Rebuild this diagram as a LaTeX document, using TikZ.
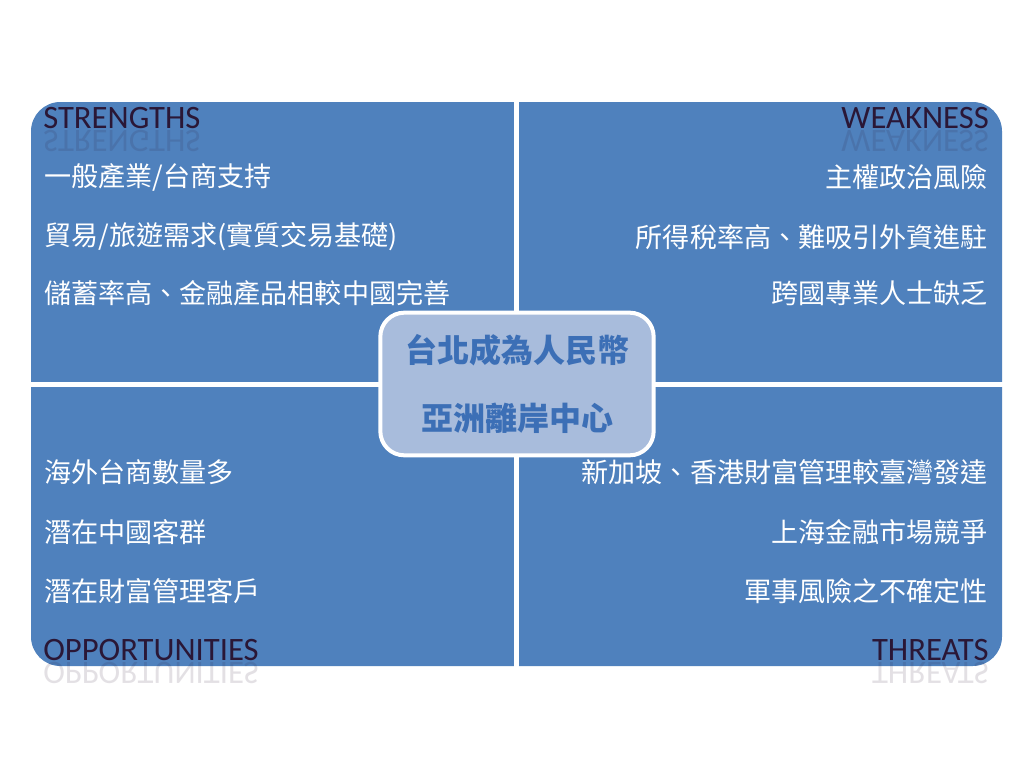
\documentclass[tikz,border=0pt]{standalone}
\usepackage{fontspec}
\setmainfont{Carlito}
\newfontfamily\cjk{Noto Sans CJK TC}
\definecolor{quadblue}{HTML}{4F81BD}
\definecolor{coreblue}{HTML}{A8BCDC}
\definecolor{coretext}{HTML}{3C6FB6}
\definecolor{titledark}{HTML}{2A1736}
\begin{document}
\begin{tikzpicture}[x=0.75pt,y=-0.75pt,
  item/.style={text=white,font=\cjk\fontsize{20.3}{24}\selectfont,inner sep=0pt},
  heading/.style={text=titledark,font=\fontsize{24.5}{28}\selectfont,inner sep=0pt},
  mirror/.style={heading,transform shape,yscale=-1,opacity=0.13}]
\useasboundingbox (0,0) rectangle (1024,768);
\fill[white] (0,0) rectangle (1024,768);
% quadrants
\fill[quadblue,rounded corners=22pt] (31,102) rectangle (1002,666);
\fill[white] (514,96) rectangle (519,672);
\fill[white] (25,382) rectangle (1008,387);
% headings
\node[heading,anchor=base west] (st) at (43,128) {STRENGTHS};
\node[mirror,anchor=base west] at (43,130) {STRENGTHS};
\node[heading,anchor=base east] (wk) at (989,128) {WEAKNESS};
\node[mirror,anchor=base east] at (989,130) {WEAKNESS};
\node[heading,anchor=base west] (op) at (43,660) {OPPORTUNITIES};
\node[mirror,anchor=base west] at (43,662) {OPPORTUNITIES};
\node[heading,anchor=base east] (th) at (989,660) {THREATS};
\node[mirror,anchor=base east] at (989,662) {THREATS};
% strengths
\node[item,anchor=west] (s1) at (44,177) {一般產業/台商支持};
\node[item,anchor=west] (s2) at (44,237) {貿易/旅遊需求(實質交易基礎)};
\node[item,anchor=west] (s3) at (44,293) {儲蓄率高、金融產品相較中國完善};
% weakness
\node[item,anchor=east] (w1) at (988,177) {主權政治風險};
\node[item,anchor=east] (w2) at (988,237) {所得稅率高、難吸引外資進駐};
\node[item,anchor=east] (w3) at (988,293) {跨國專業人士缺乏};
% opportunities
\node[item,anchor=west] (o1) at (44,472) {海外台商數量多};
\node[item,anchor=west] (o2) at (44,532) {潛在中國客群};
\node[item,anchor=west] (o3) at (44,591) {潛在財富管理客戶};
% threats
\node[item,anchor=east] (t1) at (988,472) {新加坡、香港財富管理較臺灣發達};
\node[item,anchor=east] (t2) at (988,532) {上海金融市場競爭};
\node[item,anchor=east] (t3) at (988,591) {軍事風險之不確定性};
% centre
\node[fill=coreblue,draw=white,line width=3pt,rounded corners=18pt,
  minimum width=205pt,minimum height=107pt] (core) at (517,384) {};
\node[text=coretext,font=\cjk\bfseries\fontsize{24}{28}\selectfont] (c1) at (517,350) {台北成為人民幣};
\node[text=coretext,font=\cjk\bfseries\fontsize{24}{28}\selectfont] (c2) at (517,418) {亞洲離岸中心};
\end{tikzpicture}
\end{document}
